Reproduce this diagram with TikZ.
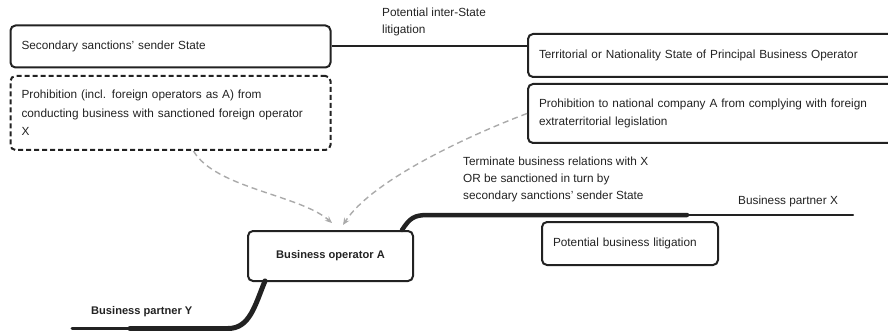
\documentclass[tikz,border=0pt]{standalone}
\usepackage{fontspec}
\setmainfont{Liberation Sans}
\usetikzlibrary{arrows.meta}
\definecolor{ink}{HTML}{222222}
\definecolor{arrowgray}{HTML}{AAAAAA}
\tikzset{
  box/.style={draw=ink, line width=2pt, rounded corners=5pt, align=left, anchor=north west, inner xsep=11pt, inner ysep=0pt, font=\fontsize{11.8}{18.5}\selectfont, text=ink},
  dbox/.style={box, dash pattern=on 5pt off 3pt},
  lbl/.style={inner sep=0pt, align=left, anchor=north west, font=\fontsize{11.8}{17}\selectfont, text=ink},
  garrow/.style={draw=arrowgray, line width=1.4pt, dash pattern=on 6pt off 4pt, -{Stealth[length=7pt,width=6pt]}},
  branch/.style={draw=ink, line cap=round},
}
\begin{document}
\begin{tikzpicture}[x=1pt,y=-1pt]
\useasboundingbox (0,0) rectangle (888,331);
% boxes
\node[box, minimum width=320pt, minimum height=42pt, text width=298pt] (sender) at (9.5,24.5) {Secondary sanctions' sender State};
\node[dbox, minimum width=320pt, minimum height=74pt, text width=298pt] (prohibA) at (9.5,75) {Prohibition (incl. foreign operators as A) from\\conducting business with sanctioned foreign operator\\X};
\node[box, minimum width=380pt, minimum height=43pt, text width=358pt] (territorial) at (527,33) {Territorial or Nationality State of Principal Business Operator};
\node[box, minimum width=380pt, minimum height=59pt, text width=358pt, inner xsep=9pt] (prohibN) at (527,83) {Prohibition to national company A from complying with foreign\\extraterritorial legislation};
\node[box, minimum width=165pt, minimum height=50pt, align=center, font=\fontsize{11.1}{18}\selectfont\bfseries] (opA) at (247,230) {Business operator A};
\node[box, minimum width=176pt, minimum height=43pt, text width=154pt] (litig) at (541,221) {Potential business litigation};
% labels
\node[lbl] (interstate) at (382,7.5) {Potential inter-State\\litigation};
\node[lbl] (terminate) at (463,157) {Terminate business relations with X\\OR be sanctioned in turn by\\secondary sanctions' sender State};
\node[lbl] (partnerX) at (738,196) {Business partner X};
\node[lbl, font=\fontsize{11.1}{17}\selectfont\bfseries] (partnerY) at (91,306) {Business partner Y};
% coordinates
\coordinate (xend) at (853,215);
\coordinate (xmid) at (687,215);
\coordinate (yend) at (72,328.5);
\coordinate (aTop) at (402,230);
\coordinate (aBot) at (265,281);
% connectors
\draw[draw=ink, line width=2pt] (sender.east) -- (territorial.west |- sender.east);
\draw[branch, line width=4.5pt] (aTop) .. controls (410,218) and (414,215) .. (428,215) -- (xmid);
\draw[branch, line width=2pt] (xmid) -- (xend);
\draw[branch, line width=5pt] (aBot) .. controls (255,305) and (250,328.5) .. (228,328.5) -- (130,328.5);
\draw[branch, line width=3pt] (130,328.5) -- (yend);
\draw[garrow] (prohibA.south west) ++(184,0) .. controls (215,188) and (300,195) .. (332,223);
\draw[garrow] (prohibN.west) .. controls (470,135) and (372,180) .. (343,225);
\end{tikzpicture}
\end{document}
